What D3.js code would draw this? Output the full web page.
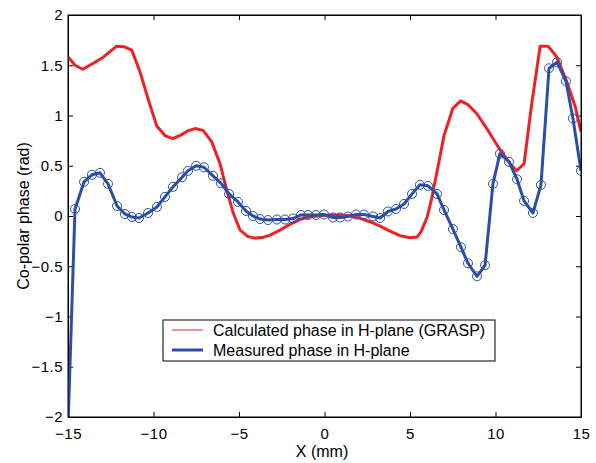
<!DOCTYPE html>
<html>
<head>
<meta charset="utf-8">
<script src="https://cdn.jsdelivr.net/npm/d3@7"></script>
<style>
  body { margin: 0; background: #fff; }
  text { font-family: "Liberation Sans", Arial, sans-serif; fill: #000; }
</style>
</head>
<body>
<div id="chart"></div>
<script>
// data
var xTicks = [-15, -10, -5, 0, 5, 10, 15];
var yTicks = [-2, -1.5, -1, -0.5, 0, 0.5, 1, 1.5, 2];

var calcX = [-15, -14.59, -14.14, -13.52, -12.94, -12.15, -11.73, -11.27, -10.79, -10.30,
  -9.81, -9.33, -8.88, -8.41, -7.96, -7.57, -7.09, -6.60, -6.11, -5.72, -5.33, -4.94,
  -4.47, -4.06, -3.65, -3.19, -2.60, -2.02, -1.43, -0.85, -0.26, 0.32, 0.91, 1.49, 2.08,
  2.66, 3.25, 3.83, 4.42, 5.00, 5.41, 5.65, 6.01, 6.27, 6.56, 6.99, 7.50, 7.96, 8.41,
  8.90, 9.49, 10.26, 10.85, 11.24, 11.67, 12.12, 12.61, 13.07, 13.58, 14.16, 14.65, 15];
var calcY = [1.585, 1.50, 1.46, 1.52, 1.58, 1.69, 1.685, 1.65, 1.435, 1.155,
  0.895, 0.80, 0.77, 0.805, 0.85, 0.87, 0.85, 0.74, 0.52, 0.26, 0.027, -0.14,
  -0.205, -0.22, -0.215, -0.19, -0.14, -0.083, -0.033, -0.007, 0.003, 0.01, 0.01, 0.003, -0.023,
  -0.057, -0.10, -0.15, -0.196, -0.216, -0.21, -0.156, -0.007, 0.176, 0.425, 0.80, 1.07, 1.145, 1.105,
  1.02, 0.87, 0.66, 0.52, 0.45, 0.52, 1.12, 1.69, 1.69, 1.585, 1.34, 1.095, 0.84];

var measX = [-15, -14.59, -14.06, -13.60, -13.13, -12.66, -12.13, -11.67, -11.26, -10.85,
  -10.32, -9.80, -9.33, -8.86, -8.33, -7.98, -7.51, -7.05, -6.52, -6.05, -5.58, -5.06,
  -4.59, -4.18, -3.77, -3.30, -2.78, -2.31, -1.84, -1.37, -0.96, -0.50, -0.03, 0.50,
  0.91, 1.37, 1.84, 2.31, 2.84, 3.25, 3.71, 4.18, 4.65, 5.12, 5.58, 6.05, 6.58, 6.99,
  7.51, 7.98, 8.39, 8.92, 9.39, 9.85, 10.26, 10.79, 11.26, 11.67, 12.19, 12.66, 13.13,
  13.60, 14.12, 14.53, 15.00];
var measY = [-2.1, 0.07, 0.34, 0.41, 0.43, 0.32, 0.10, 0.02, -0.01, -0.02,
  0.03, 0.09, 0.19, 0.29, 0.385, 0.45, 0.50, 0.485, 0.40, 0.325, 0.22, 0.14,
  0.05, 0.0, -0.03, -0.04, -0.035, -0.035, -0.025, 0.01, 0.01, 0.01, 0.015, -0.015,
  -0.015, -0.005, 0.015, 0.015, -0.005, -0.02, 0.045, 0.07, 0.12, 0.22, 0.31, 0.30, 0.22, 0.06,
  -0.13, -0.31, -0.47, -0.60, -0.49, 0.32, 0.62, 0.54, 0.365, 0.15, 0.03, 0.31, 1.47,
  1.53, 1.34, 0.97, 0.45];

var seriesNames = ["Calculated phase in H-plane (GRASP)", "Measured phase in H-plane"];

var width = 596, height = 463;
var margin = {top: 15, right: 15, bottom: 46, left: 68};
var w = width - margin.left - margin.right,
    h = height - margin.top - margin.bottom;

var red = "#ee2125", blue = "#2b4ea6";

var svg = d3.select("#chart").append("svg")
  .attr("width", width)
  .attr("height", height);

svg.append("defs").append("clipPath").attr("id", "clip")
  .append("rect").attr("width", w).attr("height", h);

var g = svg.append("g")
  .attr("transform", "translate(" + margin.left + "," + margin.top + ")");

var x = d3.scaleLinear().domain([-15, 15]).range([0, w]);
var y = d3.scaleLinear().domain([-2, 2]).range([h, 0]);

// axes, ticks pointing inward (matlab style box)
g.append("g")
  .attr("transform", "translate(0," + h + ")")
  .call(d3.axisBottom(x).tickValues(xTicks).tickSizeInner(-5).tickSizeOuter(0).tickPadding(11));
g.append("g")
  .call(d3.axisTop(x).tickValues(xTicks).tickSizeInner(-5).tickSizeOuter(0).tickFormat(""));
g.append("g")
  .call(d3.axisLeft(y).tickValues(yTicks).tickSizeInner(-5).tickSizeOuter(0).tickPadding(5).tickFormat(d3.format("")));
g.append("g")
  .attr("transform", "translate(" + w + ",0)")
  .call(d3.axisRight(y).tickValues(yTicks).tickSizeInner(-5).tickSizeOuter(0).tickFormat(""));

g.selectAll(".domain").attr("stroke", "#000");
g.selectAll(".tick line").attr("stroke", "#000");
g.selectAll(".tick text")
  .style("font-family", '"Liberation Sans", Arial, sans-serif')
  .style("font-size", "15px")
  .style("letter-spacing", "0.5px")
  .attr("fill", "#000");

var line = d3.line()
  .x(function(d) { return x(d[0]); })
  .y(function(d) { return y(d[1]); });

var calc = d3.zip(calcX, calcY);
var meas = d3.zip(measX, measY);

var plot = g.append("g").attr("clip-path", "url(#clip)");

plot.append("path")
  .datum(calc)
  .attr("d", line)
  .attr("fill", "none")
  .attr("stroke", red)
  .attr("stroke-width", 3)
  .attr("stroke-linejoin", "round");

plot.append("path")
  .datum(meas)
  .attr("d", line)
  .attr("fill", "none")
  .attr("stroke", blue)
  .attr("stroke-width", 3)
  .attr("stroke-linejoin", "round");

plot.selectAll("circle")
  .data(meas)
  .enter()
  .append("circle")
  .attr("cx", function(d) { return x(d[0]); })
  .attr("cy", function(d) { return y(d[1]); })
  .attr("r", 4.5)
  .attr("fill", "none")
  .attr("stroke", blue)
  .attr("stroke-width", 1);

// frame
g.append("rect")
  .attr("width", w).attr("height", h)
  .attr("fill", "none").attr("stroke", "#000");

// axis titles
svg.append("text")
  .attr("x", 322)
  .attr("y", 457)
  .attr("text-anchor", "middle")
  .style("font-size", "16px")
  .text("X (mm)");

svg.append("text")
  .attr("transform", "translate(29," + (margin.top + h / 2) + ") rotate(-90)")
  .attr("text-anchor", "middle")
  .style("font-size", "16px")
  .text("Co-polar phase (rad)");

// legend
var lg = svg.append("g").attr("transform", "translate(163,320)");
lg.append("rect")
  .attr("width", 332).attr("height", 41)
  .attr("fill", "#fff").attr("stroke", "#000");

var items = lg.selectAll(".item")
  .data(seriesNames)
  .enter()
  .append("g")
  .attr("class", "item")
  .attr("transform", function(d, i) { return "translate(0," + (10 + i * 20) + ")"; });

items.append("line")
  .attr("x1", 9).attr("x2", 40)
  .attr("stroke", function(d, i) { return i === 0 ? red : blue; })
  .attr("stroke-width", function(d, i) { return i === 0 ? 1 : 3; });

items.append("text")
  .attr("x", 50)
  .attr("dy", "0.35em")
  .style("font-size", "16px")
  .text(function(d) { return d; });
</script>
</body>
</html>
